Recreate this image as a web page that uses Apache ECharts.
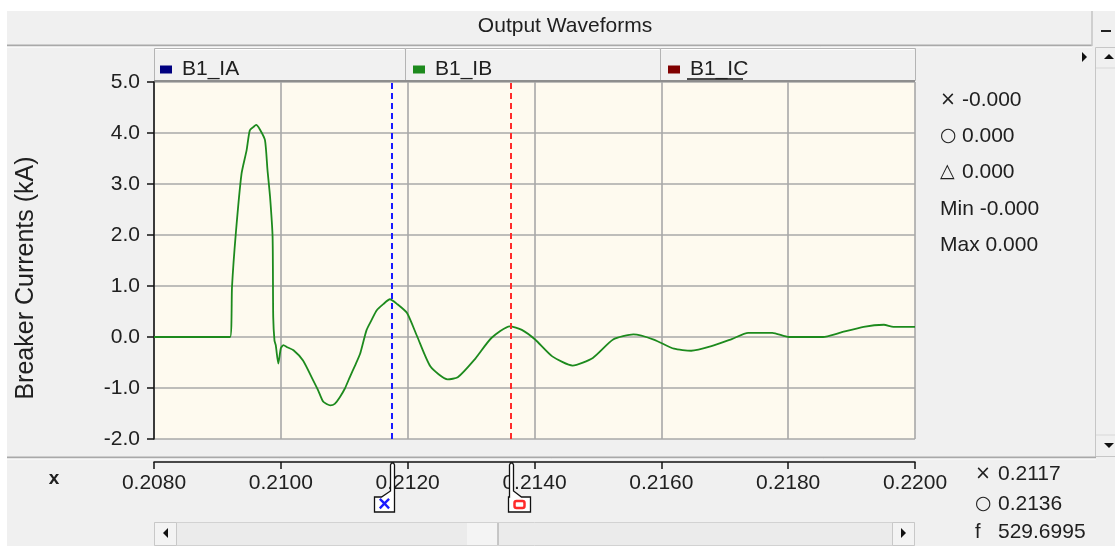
<!DOCTYPE html>
<html>
<head>
<meta charset="utf-8">
<title>Output Waveforms</title>
<script src="https://cdn.jsdelivr.net/npm/echarts@6/dist/echarts.min.js"></script>
<style>
html, body { margin: 0; padding: 0; background: #ffffff; }
#chart { width: 1115px; height: 546px; }
</style>
</head>
<body>
<div id="chart"></div>
<script>
// series shown in the legend tabs
const seriesNames = ['B1_IA', 'B1_IB', 'B1_IC'];
const seriesColors = ['#000080', '#1d8a1d', '#800000'];

// B1_IB waveform (time in s, current in kA)
const timeIB = [
  0.20800, 0.20920, 0.20923, 0.20929, 0.20938, 0.20946, 0.20951, 0.20957, 0.20961, 0.20967,
  0.20975, 0.20979, 0.20983, 0.20987, 0.20988, 0.20990, 0.20992, 0.20996, 0.21000, 0.21004,
  0.21010, 0.21020, 0.21035, 0.21051, 0.21059, 0.21067, 0.21078, 0.21085, 0.21093, 0.21101,
  0.21109, 0.21117, 0.21125, 0.21135, 0.21143, 0.21151, 0.21162, 0.21172, 0.21183, 0.21199,
  0.21215, 0.21236, 0.21263, 0.21279, 0.21305, 0.21332, 0.21361, 0.21380, 0.21401, 0.21428,
  0.21460, 0.21492, 0.21524, 0.21556, 0.21588, 0.21620, 0.21647, 0.21679, 0.21711, 0.21737,
  0.21775, 0.21801, 0.21855, 0.21881, 0.21919, 0.21951, 0.21966, 0.22000
];
const currentIB = [
  0.00, 0.00, 0.98, 2.03, 3.20, 3.66, 4.05, 4.12, 4.16, 4.07,
  3.86, 3.27, 2.75, 1.96, 0.39, -0.07, -0.16, -0.52, -0.22, -0.16,
  -0.20, -0.26, -0.46, -0.85, -1.05, -1.27, -1.34, -1.31, -1.18, -1.01,
  -0.78, -0.56, -0.33, 0.13, 0.33, 0.52, 0.65, 0.74, 0.65, 0.47,
  0.01, -0.58, -0.83, -0.79, -0.45, -0.02, 0.21, 0.14, -0.05, -0.38,
  -0.56, -0.41, -0.05, 0.05, -0.05, -0.23, -0.27, -0.18, -0.04, 0.08,
  0.08, 0.00, 0.00, 0.08, 0.20, 0.24, 0.20, 0.20
];
// B1_IA and B1_IC have no visible trace
const currentIA = [];
const currentIC = [];

// cursors (x = blue, o = red)
const cursorTimes = [0.21175, 0.21363];
const cursorColors = ['#1a1aff', '#ff2b2b'];

// readouts
const valueSymbols = ['×', '○', '△', 'Min', 'Max'];
const valueReadouts = ['-0.000', '0.000', '0.000', '-0.000', '0.000'];
const timeSymbols = ['×', '○', 'f'];
const timeReadouts = ['0.2117', '0.2136', '529.6995'];

const FONT = '"Liberation Sans", Arial, sans-serif';
const TXT = '#202020';

const chart = echarts.init(document.getElementById('chart'));

const legendLeft = [160, 413, 668];

chart.setOption({
  animation: false,
  backgroundColor: '#ffffff',
  textStyle: { fontFamily: FONT },
  legend: seriesNames.map((n, i) => ({
    data: [n],
    left: legendLeft[i],
    top: 59,
    padding: 0,
    icon: 'rect',
    itemWidth: 12,
    itemHeight: 8,
    selectedMode: false,
    textStyle: { fontSize: 21, color: TXT, padding: [0, 0, 0, 5], fontFamily: FONT }
  })),
  grid: {
    left: 154, top: 82, width: 761, height: 357,
    show: true, backgroundColor: '#fefaef', borderWidth: 0
  },
  xAxis: [
    {
      type: 'value', position: 'bottom', min: 0.208, max: 0.22, interval: 0.002,
      axisLine: { show: false }, axisTick: { show: false }, axisLabel: { show: false },
      splitLine: { show: true, lineStyle: { color: '#a8a8a8', width: 1.6 } }
    },
    {
      type: 'value', position: 'bottom', offset: 23, min: 0.208, max: 0.22, interval: 0.002,
      axisLine: { show: true, lineStyle: { color: '#111', width: 1.5 } },
      axisTick: { show: true, length: 7, lineStyle: { color: '#111', width: 1.5 } },
      axisLabel: { fontSize: 21, color: TXT, margin: 11, formatter: v => v.toFixed(4) },
      splitLine: { show: false }
    }
  ],
  yAxis: {
    type: 'value', min: -2, max: 5, interval: 1,
    axisLine: { show: true, lineStyle: { color: '#111', width: 1.5 } },
    axisTick: { show: true, length: 7, lineStyle: { color: '#111', width: 1.5 } },
    axisLabel: { fontSize: 21, color: TXT, margin: 14, formatter: v => v.toFixed(1) },
    splitLine: { show: true, lineStyle: { color: '#a8a8a8', width: 1.6 } }
  },
  series: [
    {
      name: seriesNames[0], type: 'line', color: seriesColors[0],
      data: currentIA, showSymbol: false
    },
    {
      name: seriesNames[1], type: 'line', color: seriesColors[1],
      data: timeIB.map((t, i) => [t, currentIB[i]]),
      showSymbol: false, smooth: 0.2,
      lineStyle: { width: 1.8, color: seriesColors[1] },
      markLine: {
        silent: true, symbol: 'none', label: { show: false }, precision: 6,
        data: cursorTimes.map((t, i) => ({
          xAxis: t,
          lineStyle: { color: cursorColors[i], type: [6, 4], width: 2 }
        }))
      }
    },
    {
      name: seriesNames[2], type: 'line', color: seriesColors[2],
      data: currentIC, showSymbol: false
    }
  ]
});

// --- window chrome, readouts and cursor flags ---
const g = [];
const text = (x, y, s, opt) => g.push(Object.assign({
  type: 'text', x: x, y: y,
  style: Object.assign({ text: s, fill: TXT, font: '21px ' + FONT, textVerticalAlign: 'middle' }, (opt && opt.style) || {})
}, opt && opt.rotation !== undefined ? { rotation: opt.rotation } : {}));
const line = (x1, y1, x2, y2, stroke, w) => g.push({
  type: 'line', shape: { x1, y1, x2, y2 }, style: { stroke: stroke, lineWidth: w || 1 }
});

// panel
g.push({ type: 'rect', z: -1, shape: { x: 7, y: 11, width: 1108, height: 535 }, style: { fill: '#f0f0f0' } });
// title bar
text(565, 26, 'Output Waveforms', { style: { textAlign: 'center' } });
line(7, 45.5, 1092, 45.5, '#a9a9a9', 2);
line(7, 47, 1092, 47, '#ffffff', 1);
line(1092, 11, 1092, 46, '#c4c4c4', 1.5);
line(1101, 31, 1111, 31, '#222', 2);

// legend tabs
const tabEdges = [154, 405, 660, 915];
for (let i = 0; i < 3; i++) {
  g.push({
    type: 'rect',
    shape: { x: tabEdges[i] + 0.5, y: 48.5, width: tabEdges[i + 1] - tabEdges[i], height: 32 },
    style: { fill: '#f1f1f1', stroke: '#b4b4b4', lineWidth: 1 }
  });
  line(tabEdges[i] + 1.5, 49.5, tabEdges[i + 1] - 1, 49.5, '#ffffff', 1);
}
line(154, 81, 915, 81, '#8e8e8e', 2);
// underline of the active tab
line(687, 79, 743, 79, '#111', 1.5);

// small arrow at top right
g.push({ type: 'polygon', shape: { points: [[1082, 52], [1087, 57], [1082, 62]] }, style: { fill: '#111' } });

// vertical scrollbar
g.push({ type: 'rect', shape: { x: 1095.5, y: 47.5, width: 20, height: 409 }, style: { fill: '#f0f0f0', stroke: '#c6c6c6', lineWidth: 1 } });
line(1096, 68, 1115, 68, '#d8d8d8', 1);
line(1096, 435, 1115, 435, '#d8d8d8', 1);
g.push({ type: 'polygon', shape: { points: [[1104, 59], [1109, 54], [1114, 59]] }, style: { fill: '#111' } });
g.push({ type: 'polygon', shape: { points: [[1104, 443], [1109, 448], [1114, 443]] }, style: { fill: '#111' } });

// readouts on the right
const rowY = [100, 136, 172, 209, 245];
valueSymbols.forEach((s, i) => {
  if (s.length > 1) {
    text(940, rowY[i], s + ' ' + valueReadouts[i]);
  } else {
    text(940, rowY[i], s, { style: { font: '19px "DejaVu Sans", sans-serif' } });
    text(962, rowY[i], valueReadouts[i]);
  }
});

// y axis title
text(26, 278, 'Breaker Currents (kA)', { rotation: Math.PI / 2, style: { textAlign: 'center', font: '25px ' + FONT } });

// bottom separator and x label
line(7, 457.5, 1096, 457.5, '#a9a9a9', 2);
line(7, 459, 1096, 459, '#ffffff', 1);
text(54, 479, 'x', { style: { textAlign: 'center', font: 'bold 19px ' + FONT } });

// cursor flags on the time axis
const axisY = chart.convertToPixel({ yAxisIndex: 0 }, -2) + 23;
cursorTimes.forEach((t, i) => {
  const sx = Math.round(chart.convertToPixel({ xAxisIndex: 1 }, t)) + 0.5;
  let pts, cx;
  if (i === 0) {
    pts = [[sx - 2, axisY + 3], [sx - 1, axisY + 1], [sx + 1, axisY + 1], [sx + 2, axisY + 3], [sx + 2, axisY + 50],
           [sx - 18, axisY + 50], [sx - 18, axisY + 35], [sx - 11, axisY + 35], [sx - 2, axisY + 29]];
    cx = sx - 8;
  } else {
    pts = [[sx - 2, axisY + 3], [sx - 1, axisY + 1], [sx + 1, axisY + 1], [sx + 2, axisY + 3], [sx + 2, axisY + 29],
           [sx + 10, axisY + 35], [sx + 19, axisY + 35], [sx + 19, axisY + 50], [sx - 3, axisY + 50], [sx - 3, axisY + 35], [sx - 2, axisY + 35]];
    cx = sx + 8;
  }
  g.push({ type: 'polygon', z: 5, shape: { points: pts }, style: { fill: '#ffffff', stroke: '#111', lineWidth: 1.3 } });
  if (i === 0) {
    g.push({ type: 'text', z: 6, x: cx, y: axisY + 43, style: { text: '×', fill: cursorColors[i], font: 'bold 22px ' + FONT, textAlign: 'center', textVerticalAlign: 'middle' } });
  } else {
    g.push({ type: 'rect', z: 6, shape: { x: cx - 5, y: axisY + 39, width: 10, height: 7, r: 2 }, style: { fill: 'none', stroke: cursorColors[i], lineWidth: 2.5 } });
  }
});

// time readouts bottom right
const timeRowY = [474, 504, 532];
timeSymbols.forEach((s, i) => {
  text(975, timeRowY[i], s, { style: { font: (s === 'f' ? '20px ' + FONT : '19px "DejaVu Sans", sans-serif') } });
  text(998, timeRowY[i], timeReadouts[i]);
});

// horizontal scrollbar
g.push({ type: 'rect', shape: { x: 154.5, y: 522.5, width: 760, height: 23 }, style: { fill: '#ebebeb', stroke: '#d2d2d2', lineWidth: 1 } });
g.push({ type: 'rect', shape: { x: 467, y: 523, width: 31, height: 22 }, style: { fill: '#f4f4f4' } });
line(498, 523, 498, 545, '#b8b8b8', 1.5);
g.push({ type: 'rect', shape: { x: 154.5, y: 522.5, width: 22, height: 23 }, style: { fill: '#f3f3f3', stroke: '#c8c8c8', lineWidth: 1 } });
g.push({ type: 'rect', shape: { x: 892.5, y: 522.5, width: 22, height: 23 }, style: { fill: '#f3f3f3', stroke: '#c8c8c8', lineWidth: 1 } });
g.push({ type: 'polygon', shape: { points: [[168, 528], [163, 533], [168, 538]] }, style: { fill: '#111' } });
g.push({ type: 'polygon', shape: { points: [[901, 528], [906, 533], [901, 538]] }, style: { fill: '#111' } });

chart.setOption({ graphic: g });
</script>
</body>
</html>
